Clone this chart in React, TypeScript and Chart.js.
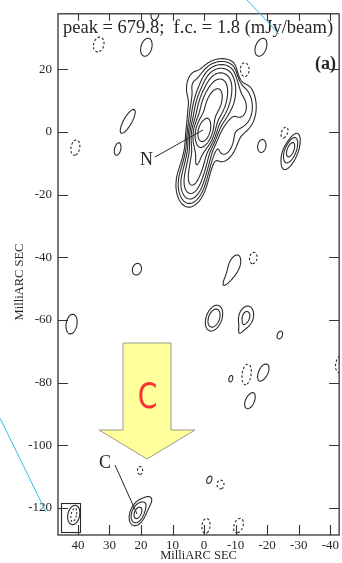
import React, { useEffect, useRef } from 'react';
import { Chart, registerables } from 'chart.js';
Chart.register(...registerables);

// ---- axes ----
const xTicks = [40, 30, 20, 10, 0, -10, -20, -30, -40];
const yTicks = [20, 0, -20, -40, -60, -80, -100, -120];
const X_MIN = -42.8, X_MAX = 46.3;
const Y_MIN = -128.6, Y_MAX = 37.7;

// ---- contour levels (mJy/beam) ----
const positiveLevels = [1.8, 3.6, 7.2, 14.4, 28.8, 57.6, 115.2, 230.4, 460.8];
const negativeLevels = [1.8];

// ---- Gaussian components of the map (x mas, y mas, peak mJy/beam, sigma major, sigma minor, PA deg) ----
const compX = [0, -3, -5, 1.8, 4.2, -11.5, -7, 3.8,
  15.5, 33.4, 18.3, -18, -12.3, 24.2, 40.8, 27.4, -18.3, -25.7, -27.4, -27.3,
  21.3, -9.6, -7.5, -15.5, 42, -3.15, -13.3, -11.5, -24, -43.2, -8.5, -13.6, -18.6, -14.5,
  20.3, -1.7, -5.2, 21.1, 18.5, -0.6, -10.9];
const compY = [0.3, 9, 16, -8, -16, 8, -4, 15,
  38.2, 27.9, 27, 27, 19, 3.4, -5, -5.6, -4.5, -0.5, -5.5, -6.7,
  -43.8, -42, -47, -40.2, -61.3, -59.4, -59, -63.5, -64.8, -74.1, -78.7, -77.6, -76.8, -85.5,
  -108, -111, -112.5, -121.8, -118.5, -125.7, -125.6];
const compPeak = [400, 180, 25, 60, 15, 9, 5, 3.0,
  2.6, -2.6, 2.6, 2.6, -4.5, 3.4, -2.6, 3.4, 2.6, -2.6, 8, 2.8,
  2.6, 2.6, 2.0, -2.6, 2.6, 7, 4.5, 1.5, 2.6, -2.6, 2.6, -2.6, 3.4, 3.4,
  -2.6, 2.6, -2.6, 9, 2.5, -2.6, -2.6];
const compMaj = [2.8, 4.5, 3, 5.5, 3.5, 4.5, 4, 3.5,
  2.9, 2.8, 3.4, 3.5, 2.6, 3.8, 2.9, 1.68, 2.4, 2.6, 2.4, 5.5,
  2.2, 3.4, 3.5, 2.2, 3.7, 2.6, 2.6, 2.2, 1.5, 3.2, 1.3, 4.1, 2.7, 2.7,
  1.5, 1.5, 1.65, 2.2, 3, 2.8, 2.8];
const compMin = [1.6, 2.4, 3, 1.8, 2.2, 2.8, 2.2, 1.6,
  1.5, 1.9, 2.0, 2.0, 1.6, 1.15, 1.6, 0.84, 1.5, 1.5, 1.1, 1.8,
  1.65, 1.8, 1.0, 1.5, 2.0, 1.5, 1.7, 0.8, 0.95, 1.75, 0.75, 1.85, 1.4, 1.4,
  0.95, 0.95, 1.3, 1.3, 1.6, 1.5, 1.65];
const compPA = [-15, -20, 0, -12, -8, 0, -20, -10,
  -10, -15, -15, -20, -15, -29, -10, -15, -10, -15, -20, -20,
  -15, -25, -35, -10, -10, -20, -15, -25, -20, -10, -15, -5, -28, -20,
  0, -25, 0, -20, -40, -5, -20];

// ---- restoring beam ----
const beamX = 41.3, beamY = -122.2, beamMaj = 3.1, beamMin = 1.9, beamPA = -12;

const STEP = 0.3;
const GX0 = -46, GX1 = 49, GY0 = -132, GY1 = 42;

function modelImage() {
  const nx = Math.round((GX1 - GX0) / STEP) + 1;
  const ny = Math.round((GY1 - GY0) / STEP) + 1;
  const g = new Float64Array(nx * ny);
  for (let k = 0; k < compX.length; k++) {
    const pa = (compPA[k] * Math.PI) / 180;
    const s = Math.sin(pa), c = Math.cos(pa);
    const R = 4.5 * compMaj[k];
    const i0 = Math.max(0, Math.floor((compX[k] - R - GX0) / STEP));
    const i1 = Math.min(nx - 1, Math.ceil((compX[k] + R - GX0) / STEP));
    const j0 = Math.max(0, Math.floor((compY[k] - R - GY0) / STEP));
    const j1 = Math.min(ny - 1, Math.ceil((compY[k] + R - GY0) / STEP));
    const a = compMaj[k], b = compMin[k], P = compPeak[k];
    for (let j = j0; j <= j1; j++) {
      const dy = GY0 + j * STEP - compY[k];
      for (let i = i0; i <= i1; i++) {
        const dx = GX0 + i * STEP - compX[k];
        const u = dx * s + dy * c;
        const v = dx * c - dy * s;
        g[j * nx + i] += P * Math.exp(-0.5 * ((u / a) * (u / a) + (v / b) * (v / b)));
      }
    }
  }
  return { g, nx, ny };
}

type Pt = { x: number; y: number };

function trace(g: Float64Array, nx: number, ny: number, level: number, sign: number): Pt[][] {
  const val = (i: number, j: number) => sign * g[j * nx + i];
  const adj = new Map<number, number[]>();
  const add = (a: number, b: number) => {
    let l = adj.get(a);
    if (!l) { l = []; adj.set(a, l); }
    l.push(b);
  };
  const link = (a: number, b: number) => { add(a, b); add(b, a); };
  const H = (i: number, j: number) => (j * nx + i) * 2;
  const V = (i: number, j: number) => (j * nx + i) * 2 + 1;
  for (let j = 0; j < ny - 1; j++) {
    for (let i = 0; i < nx - 1; i++) {
      const a = val(i, j), b = val(i + 1, j), c = val(i + 1, j + 1), d = val(i, j + 1);
      const idx = (a >= level ? 1 : 0) | (b >= level ? 2 : 0) | (c >= level ? 4 : 0) | (d >= level ? 8 : 0);
      if (idx === 0 || idx === 15) continue;
      const B = H(i, j), Rr = V(i + 1, j), T = H(i, j + 1), L = V(i, j);
      const center = (a + b + c + d) / 4;
      switch (idx) {
        case 1: case 14: link(L, B); break;
        case 2: case 13: link(B, Rr); break;
        case 3: case 12: link(L, Rr); break;
        case 4: case 11: link(Rr, T); break;
        case 6: case 9: link(B, T); break;
        case 7: case 8: link(L, T); break;
        case 5:
          if (center >= level) { link(B, Rr); link(T, L); } else { link(L, B); link(Rr, T); }
          break;
        case 10:
          if (center >= level) { link(L, B); link(Rr, T); } else { link(B, Rr); link(T, L); }
          break;
      }
    }
  }
  const pt = (key: number): Pt => {
    const t = key & 1;
    const id = key >> 1;
    const i = id % nx, j = Math.floor(id / nx);
    if (t === 0) {
      const v0 = val(i, j), v1 = val(i + 1, j);
      const f = (level - v0) / (v1 - v0);
      return { x: GX0 + (i + f) * STEP, y: GY0 + j * STEP };
    }
    const v0 = val(i, j), v1 = val(i, j + 1);
    const f = (level - v0) / (v1 - v0);
    return { x: GX0 + i * STEP, y: GY0 + (j + f) * STEP };
  };
  const visited = new Set<number>();
  const lines: Pt[][] = [];
  const walk = (start: number) => {
    const path = [start];
    visited.add(start);
    let prev = -1, cur = start;
    for (;;) {
      const nb = adj.get(cur)!;
      let next = -1;
      for (const n of nb) if (n !== prev && !visited.has(n)) { next = n; break; }
      if (next === -1) {
        if (path.length > 2 && nb.includes(start)) path.push(start);
        break;
      }
      visited.add(next); path.push(next); prev = cur; cur = next;
    }
    lines.push(path.map(pt));
  };
  for (const [k, nb] of adj) if (nb.length === 1 && !visited.has(k)) walk(k);
  for (const [k] of adj) if (!visited.has(k)) walk(k);
  return lines;
}

const SERIF = '"Liberation Serif", "DejaVu Serif", serif';
const INK = '#262626';

function makeContourPlugin(pos: Pt[][], neg: Pt[][]) {
  return {
    id: 'contours',
    beforeDatasetsDraw(chart: any) {
      const { ctx, chartArea: ca, scales } = chart;
      const xs = scales.x, ys = scales.y;
      ctx.save();
      ctx.beginPath();
      ctx.rect(ca.left, ca.top, ca.right - ca.left, ca.bottom - ca.top);
      ctx.clip();
      ctx.strokeStyle = '#2a2a2a';
      ctx.lineWidth = 1.1;
      ctx.lineJoin = 'round';
      const drawSet = (lines: Pt[][], dash: number[]) => {
        ctx.setLineDash(dash);
        for (const l of lines) {
          ctx.beginPath();
          l.forEach((p, i) => {
            const px = xs.getPixelForValue(p.x), py = ys.getPixelForValue(p.y);
            if (i === 0) ctx.moveTo(px, py); else ctx.lineTo(px, py);
          });
          ctx.stroke();
        }
      };
      drawSet(pos, []);
      drawSet(neg, [2.5, 2]);
      ctx.restore();
    },
  };
}

const overlayPlugin = {
  id: 'overlay',
  afterDraw(chart: any) {
    const { ctx, chartArea: ca, scales } = chart;
    const xs = scales.x, ys = scales.y;
    ctx.save();
    // beam box + beam
    const bx = xs.getPixelForValue(beamX), by = ys.getPixelForValue(beamY);
    const ppm = Math.abs(xs.getPixelForValue(1) - xs.getPixelForValue(0));
    ctx.strokeStyle = INK;
    ctx.lineWidth = 1.1;
    ctx.strokeRect(61.5, 503.5, 19, 29);
    ctx.beginPath();
    ctx.ellipse(bx, by, beamMin * ppm, beamMaj * ppm, (-beamPA * Math.PI) / 180, 0, Math.PI * 2);
    ctx.stroke();
    ctx.setLineDash([2, 2]);
    ctx.beginPath();
    ctx.ellipse(bx, by, beamMin * ppm * 0.45, beamMaj * ppm * 0.7, (-beamPA * Math.PI) / 180, 0, Math.PI * 2);
    ctx.stroke();
    ctx.setLineDash([]);

    // frame
    ctx.strokeStyle = '#333';
    ctx.lineWidth = 1.3;
    ctx.strokeRect(ca.left, ca.top, ca.right - ca.left, ca.bottom - ca.top);
    ctx.lineWidth = 1.1;
    ctx.beginPath();
    for (const v of xTicks) {
      const p = Math.round(xs.getPixelForValue(v)) + 0.5;
      ctx.moveTo(p, ca.bottom); ctx.lineTo(p, ca.bottom - 10);
      ctx.moveTo(p, ca.top); ctx.lineTo(p, ca.top + 7);
    }
    for (const v of yTicks) {
      const p = Math.round(ys.getPixelForValue(v)) + 0.5;
      ctx.moveTo(ca.left, p); ctx.lineTo(ca.left + 10, p);
      ctx.moveTo(ca.right, p); ctx.lineTo(ca.right - 10, p);
    }
    ctx.stroke();

    // labels
    ctx.fillStyle = INK;
    ctx.textBaseline = 'alphabetic';
    ctx.textAlign = 'left';
    ctx.font = `18.5px ${SERIF}`;
    ctx.fillText('peak = 679.8;  f.c. = 1.8 (mJy/beam)', 63, 33);
    ctx.font = `bold 18px ${SERIF}`;
    ctx.fillText('(a)', 315, 69);
    ctx.font = `18px ${SERIF}`;
    ctx.fillText('N', 140, 165);
    ctx.fillText('C', 99, 468);
    ctx.lineWidth = 1;
    ctx.strokeStyle = INK;
    ctx.beginPath();
    ctx.moveTo(155, 157); ctx.lineTo(203, 130);
    ctx.moveTo(115, 465); ctx.lineTo(137, 514);
    ctx.stroke();

    // y title
    ctx.save();
    ctx.translate(20, 282);
    ctx.rotate(-Math.PI / 2);
    ctx.textAlign = 'center';
    ctx.textBaseline = 'middle';
    ctx.font = `12.5px ${SERIF}`;
    ctx.fillText('MilliARC SEC', 0, 0);
    ctx.restore();

    // yellow arrow
    ctx.beginPath();
    ctx.moveTo(123, 343); ctx.lineTo(171, 343); ctx.lineTo(171, 430); ctx.lineTo(195, 430);
    ctx.lineTo(147, 459); ctx.lineTo(99, 430); ctx.lineTo(123, 430); ctx.closePath();
    ctx.fillStyle = '#ffff9c';
    ctx.fill();
    ctx.strokeStyle = '#9a9a8a';
    ctx.lineWidth = 1;
    ctx.stroke();
    ctx.save();
    ctx.translate(147.5, 399);
    ctx.scale(0.78, 1);
    ctx.fillStyle = '#ff3030';
    ctx.font = `36px "DejaVu Sans", sans-serif`;
    ctx.textAlign = 'center';
    ctx.textBaseline = 'middle';
    ctx.fillText('C', 0, 0);
    ctx.restore();

    // cyan lines
    ctx.strokeStyle = '#33bbf0';
    ctx.lineWidth = 1;
    ctx.beginPath();
    ctx.moveTo(247, 0); ctx.lineTo(279, 34);
    ctx.moveTo(0, 418); ctx.lineTo(46, 512);
    ctx.stroke();
    ctx.restore();
  },
};

export default function App() {
  const ref = useRef<HTMLCanvasElement | null>(null);
  useEffect(() => {
    document.body.style.margin = '0';
    const { g, nx, ny } = modelImage();
    const pos: Pt[][] = [];
    for (const L of positiveLevels) for (const line of trace(g, nx, ny, L, 1)) pos.push(line);
    const neg: Pt[][] = [];
    for (const L of negativeLevels) for (const line of trace(g, nx, ny, L, -1)) neg.push(line);
    const tickFont = { family: SERIF, size: 13 };
    const chart = new Chart(ref.current!, {
      type: 'scatter',
      data: { datasets: [{ data: [], pointRadius: 0 }] },
      options: {
        animation: false,
        responsive: false,
        maintainAspectRatio: false,
        devicePixelRatio: 1,
        events: [],
        layout: { padding: { top: 10, right: 1, left: 0, bottom: 0 } },
        plugins: { legend: { display: false }, tooltip: { enabled: false } },
        scales: {
          x: {
            type: 'linear', reverse: true, min: X_MIN, max: X_MAX,
            afterBuildTicks: (s: any) => { s.ticks = xTicks.map((v) => ({ value: v })); },
            afterFit: (s: any) => { s.height = 28; },
            grid: { display: false, drawTicks: false },
            border: { display: false },
            ticks: { padding: 3, font: tickFont, color: INK, maxRotation: 0, autoSkip: false, callback: (v: any) => String(v) },
            title: { display: true, text: 'MilliARC SEC', font: { family: SERIF, size: 12.5 }, color: INK, padding: 0 },
          },
          y: {
            type: 'linear', min: Y_MIN, max: Y_MAX,
            afterBuildTicks: (s: any) => { s.ticks = yTicks.map((v) => ({ value: v })); },
            afterFit: (s: any) => { s.width = 58; },
            grid: { display: false, drawTicks: false },
            border: { display: false },
            ticks: { padding: 6, font: tickFont, color: INK, autoSkip: false, callback: (v: any) => String(v) },
          },
        },
      } as any,
      plugins: [makeContourPlugin(pos, neg), overlayPlugin],
    });
    return () => chart.destroy();
  }, []);
  return (
    <div style={{ position: 'fixed', left: 0, top: 0, width: 342, height: 563, background: '#fff' }}>
      <canvas ref={ref} width={342} height={563} style={{ display: 'block' }} />
    </div>
  );
}
